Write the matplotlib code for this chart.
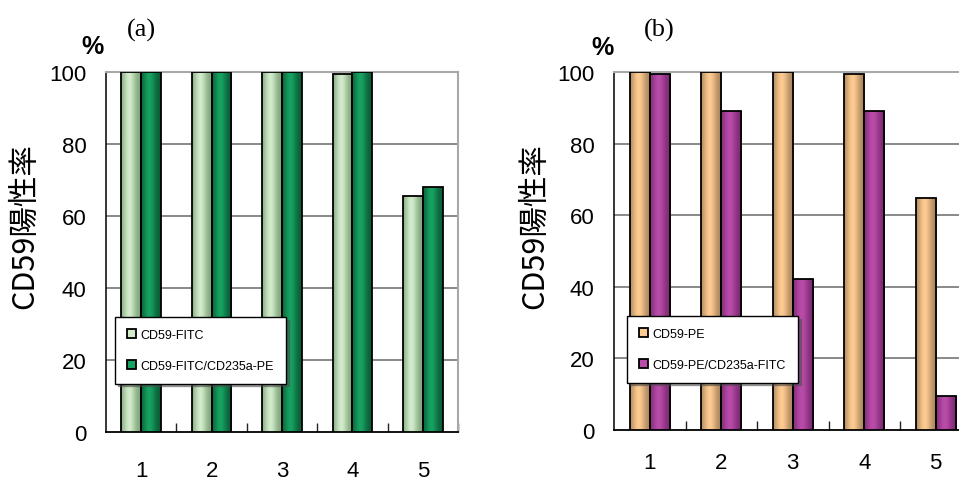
import numpy as np
import matplotlib
matplotlib.use("Agg")
import matplotlib.pyplot as plt
from matplotlib.patches import Patch
from matplotlib.colors import to_rgb

# ---- data ----
categories = ["1", "2", "3", "4", "5"]
a_labels = ["CD59-FITC", "CD59-FITC/CD235a-PE"]
a_cd59_fitc = [100, 100, 100, 99.4, 65.6]
a_cd59_fitc_cd235a = [100, 100, 100, 100, 68.1]
b_labels = ["CD59-PE", "CD59-PE/CD235a-FITC"]
b_cd59_pe = [100, 100, 100, 99.4, 64.8]
b_cd59_pe_cd235a = [99.4, 89.2, 42.1, 89.2, 9.5]
yticks = [0, 20, 40, 60, 80, 100]
ylabel = "CD59陽性率"

# colours (edge shade, centre highlight)
a_colors = [("#7ea479", "#d2ebcb"), ("#0a5a34", "#17a262")]
b_colors = [("#a8825a", "#fdcb91"), ("#7a2870", "#b94ca9")]

SANS = ["Liberation Sans", "DejaVu Sans"]
CJK = ["Noto Sans CJK JP", "DejaVu Sans"]
SERIF = ["Liberation Serif", "DejaVu Serif"]

W, H = 959, 481
fig = plt.figure(figsize=(W / 100, H / 100), dpi=100)


def gradient_img(edge, centre, n=64):
    e = np.array(to_rgb(edge))
    c = np.array(to_rgb(centre))
    t = np.linspace(0, 1, n)
    f = np.exp(-((t - 0.42) / 0.32) ** 2)
    f = np.clip(f, 0, 1)
    img = e[None, :] + (c - e)[None, :] * f[:, None]
    return img[None, :, :]


def panel(rect, series, colors, labels, legend_xy, tick_pad):
    ax = fig.add_axes(rect)
    x = np.arange(len(categories)) + 1
    w = 0.28
    offs = [-w / 2, w / 2]
    handles = []
    for vals, (edge, centre), off, lab in zip(series, colors, offs, labels):
        bars = ax.bar(x + off, vals, width=w, facecolor="none",
                      edgecolor="black", linewidth=1.3, zorder=4)
        img = gradient_img(edge, centre)
        for b in bars:
            x0 = b.get_x()
            im = ax.imshow(img, extent=[x0, x0 + b.get_width(), 0, b.get_height()],
                           aspect="auto", zorder=3, interpolation="bilinear")
            im.set_clip_path(b)
        handles.append(Patch(facecolor=centre, edgecolor="black", linewidth=1.3,
                             label=lab))
    ax.set_xlim(0.5, len(categories) + 0.5)
    ax.set_ylim(0, 100)
    ax.set_yticks(yticks)
    ax.set_yticklabels([str(v) for v in yticks], family=SANS, fontsize=16)
    ax.set_xticks(x)
    ax.set_xticklabels(categories, family=SANS, fontsize=16)
    ax.tick_params(axis="y", length=0, pad=14)
    ax.tick_params(axis="x", which="major", length=0, pad=tick_pad)
    ax.set_xticks(np.arange(len(categories)) + 1.5, minor=True)
    ax.tick_params(axis="x", which="minor", direction="in", length=6.5,
                   width=1, color="#222222")
    for v in yticks[1:-1]:
        ax.axhline(v, color="#6a6a6a", linewidth=1.1, zorder=1)
    ax.spines["left"].set_color("black")
    ax.spines["bottom"].set_color("black")
    ax.spines["left"].set_linewidth(1.1)
    ax.spines["bottom"].set_linewidth(1.3)
    ax.spines["top"].set_color("#a8a8a8")
    ax.spines["right"].set_color("#a8a8a8")
    ax.spines["top"].set_linewidth(1.5)
    ax.spines["right"].set_linewidth(1.5)
    leg = ax.legend(handles=handles, loc="upper left",
                    bbox_to_anchor=legend_xy, bbox_transform=fig.transFigure,
                    borderaxespad=0, frameon=True, fancybox=False, shadow=True,
                    prop={"family": SANS, "size": 9},
                    handlelength=0.75, handleheight=0.75, handletextpad=0.35,
                    labelspacing=1.5, borderpad=0.95)
    leg.get_frame().set_edgecolor("black")
    leg.get_frame().set_linewidth(1.0)
    leg.set_zorder(10)
    return ax


# left panel (a)
axa = panel([106 / W, 1 - 433 / H, 352 / W, 360 / H],
            [a_cd59_fitc, a_cd59_fitc_cd235a], a_colors, a_labels,
            (115 / W, 1 - 318 / H), 20)
# right panel (b)
axb = panel([614 / W, 1 - 430.7 / H, 357.5 / W, 357.7 / H],
            [b_cd59_pe, b_cd59_pe_cd235a], b_colors, b_labels,
            (627 / W, 1 - 317 / H), 16)

for cx, cy, lab in [(141, 30, "(a)"), (659, 30, "(b)")]:
    fig.text(cx / W, 1 - cy / H, lab, family=SERIF, fontsize=19,
             ha="center", va="center")
for cx, cy in [(93, 47), (602, 48)]:
    fig.text(cx / W, 1 - cy / H, "%", family=SANS,
             fontsize=18, fontweight="bold", ha="center", va="center")
for cx in [25, 535]:
    fig.text(cx / W, 1 - 226 / H, ylabel, family=CJK, fontsize=22,
             rotation=90, ha="center", va="center")

fig.savefig("out.png", dpi=100)
